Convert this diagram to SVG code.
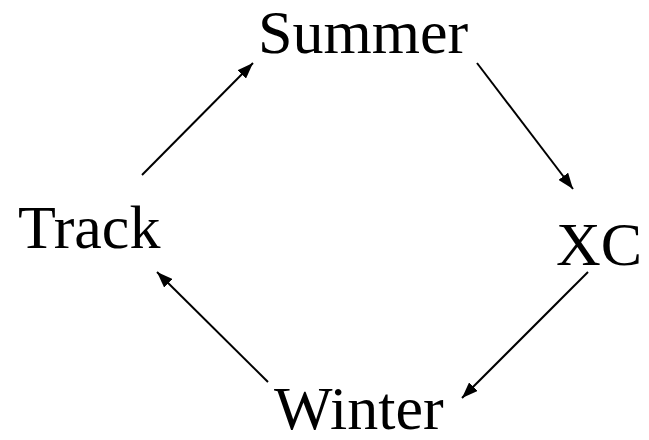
<svg xmlns="http://www.w3.org/2000/svg" width="649" height="440" viewBox="0 0 649 440">
<style>
text{font-family:"Liberation Serif","Times New Roman",serif;font-size:62px;fill:#000}
.c{stroke:#000;stroke-width:2;fill:none}
</style>
<defs>
<marker id="ah" viewBox="0 0 16 12" refX="16" refY="6" markerWidth="16" markerHeight="12" markerUnits="userSpaceOnUse" orient="auto">
<path d="M0,0L16,6L0,12z" fill="#000"/>
</marker>
</defs>
<rect width="649" height="440" fill="#fff"/>
<g id="connectors">
<line class="c" x1="142" y1="175" x2="253" y2="63" marker-end="url(#ah)"/>
<line class="c" x1="477" y1="63" x2="573" y2="189" marker-end="url(#ah)"/>
<line class="c" x1="588" y1="272" x2="462" y2="398" marker-end="url(#ah)"/>
<line class="c" x1="268" y1="382" x2="157" y2="272" marker-end="url(#ah)"/>
</g>
<g id="summer"><text x="258" y="53">Summer</text></g>
<g id="xc"><text x="556" y="265">XC</text></g>
<g id="winter"><text x="274" y="429">Winter</text></g>
<g id="track"><text x="18" y="248">Track</text></g>
</svg>
